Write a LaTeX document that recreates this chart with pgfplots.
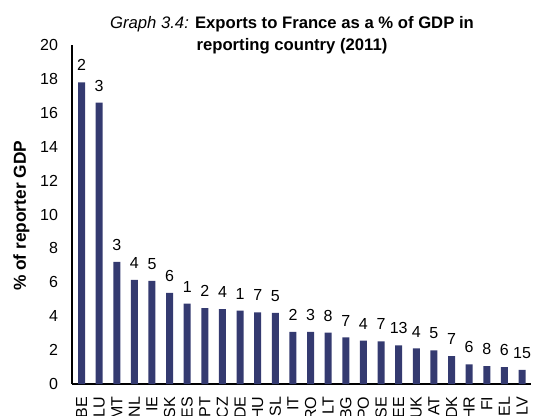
\documentclass[border=0pt]{standalone}
\usepackage{pgfplots}
\pgfplotsset{compat=1.18}
\usepackage{fontspec}
\setmainfont{Liberation Sans}
\usetikzlibrary{calc}
\definecolor{barblue}{RGB}{52,58,112}

\pgfplotstableread{
x val rank
0  17.8 2
1  16.6 3
2  7.2  3
3  6.14 4
4  6.08 5
5  5.37 6
6  4.74 1
7  4.48 2
8  4.42 4
9  4.33 1
10 4.23 7
11 4.19 5
12 3.07 2
13 3.07 3
14 3.03 8
15 2.75 7
16 2.56 4
17 2.52 7
18 2.28 13
19 2.10 4
20 1.99 5
21 1.65 7
22 1.16 6
23 1.06 8
24 1.00 6
25 0.83 15
}\exports

\begin{document}
\begin{tikzpicture}
\begin{axis}[
    scale only axis,
    width=344.25pt, height=254.25pt,
    ybar, bar width=5.25pt,
    xmin=-0.54, xmax=25.51,
    ymin=0, ymax=20,
    ytick={0,2,...,20},
    xtick=data,
    xticklabels={BE,LU,MT,NL,IE,SK,ES,PT,CZ,DE,HU,SL,IT,RO,LT,BG,PO,SE,EE,UK,AT,DK,HR,FI,EL,LV},
    axis x line*=bottom, axis y line*=left,
    axis line style={line width=1pt, -},
    major tick length=0pt,
    /pgf/number format/assume math mode=true,
    ticklabel style={font=\fontsize{12}{14}\selectfont},
    yticklabel style={xshift=-7pt},
    xticklabel style={rotate=90, anchor=east, xshift=-6pt},
    nodes near coords,
    point meta=explicit symbolic,
    every node near coord/.append style={font=\fontsize{12}{14}\selectfont, anchor=south, yshift=5pt},
]
\addplot[fill=barblue, draw=none] table[x=x, y=val, meta=rank] {\exports};
\coordinate (O) at (rel axis cs:0,0);
\coordinate (T) at (rel axis cs:0,1);
\coordinate (M) at (rel axis cs:0,0.5);
\end{axis}
\node[anchor=base, font=\fontsize{12.5}{14}\selectfont] at ($(T)+(165pt,12.75pt)$)
    {\textit{Graph 3.4:} \textbf{Exports to France as a \% of GDP in}};
\node[anchor=base, font=\fontsize{12.5}{14}\selectfont\bfseries] at ($(T)+(165pt,-3.75pt)$)
    {reporting country (2011)};
\node[rotate=90, font=\fontsize{13}{15}\selectfont\bfseries] at ($(M)+(-38pt,-1pt)$)
    {\% of reporter GDP};
\pgfresetboundingbox
\path[use as bounding box] ($(O)+(-54pt,-23.25pt)$) rectangle ($(O)+(345.75pt,288pt)$);
\end{tikzpicture}
\end{document}
